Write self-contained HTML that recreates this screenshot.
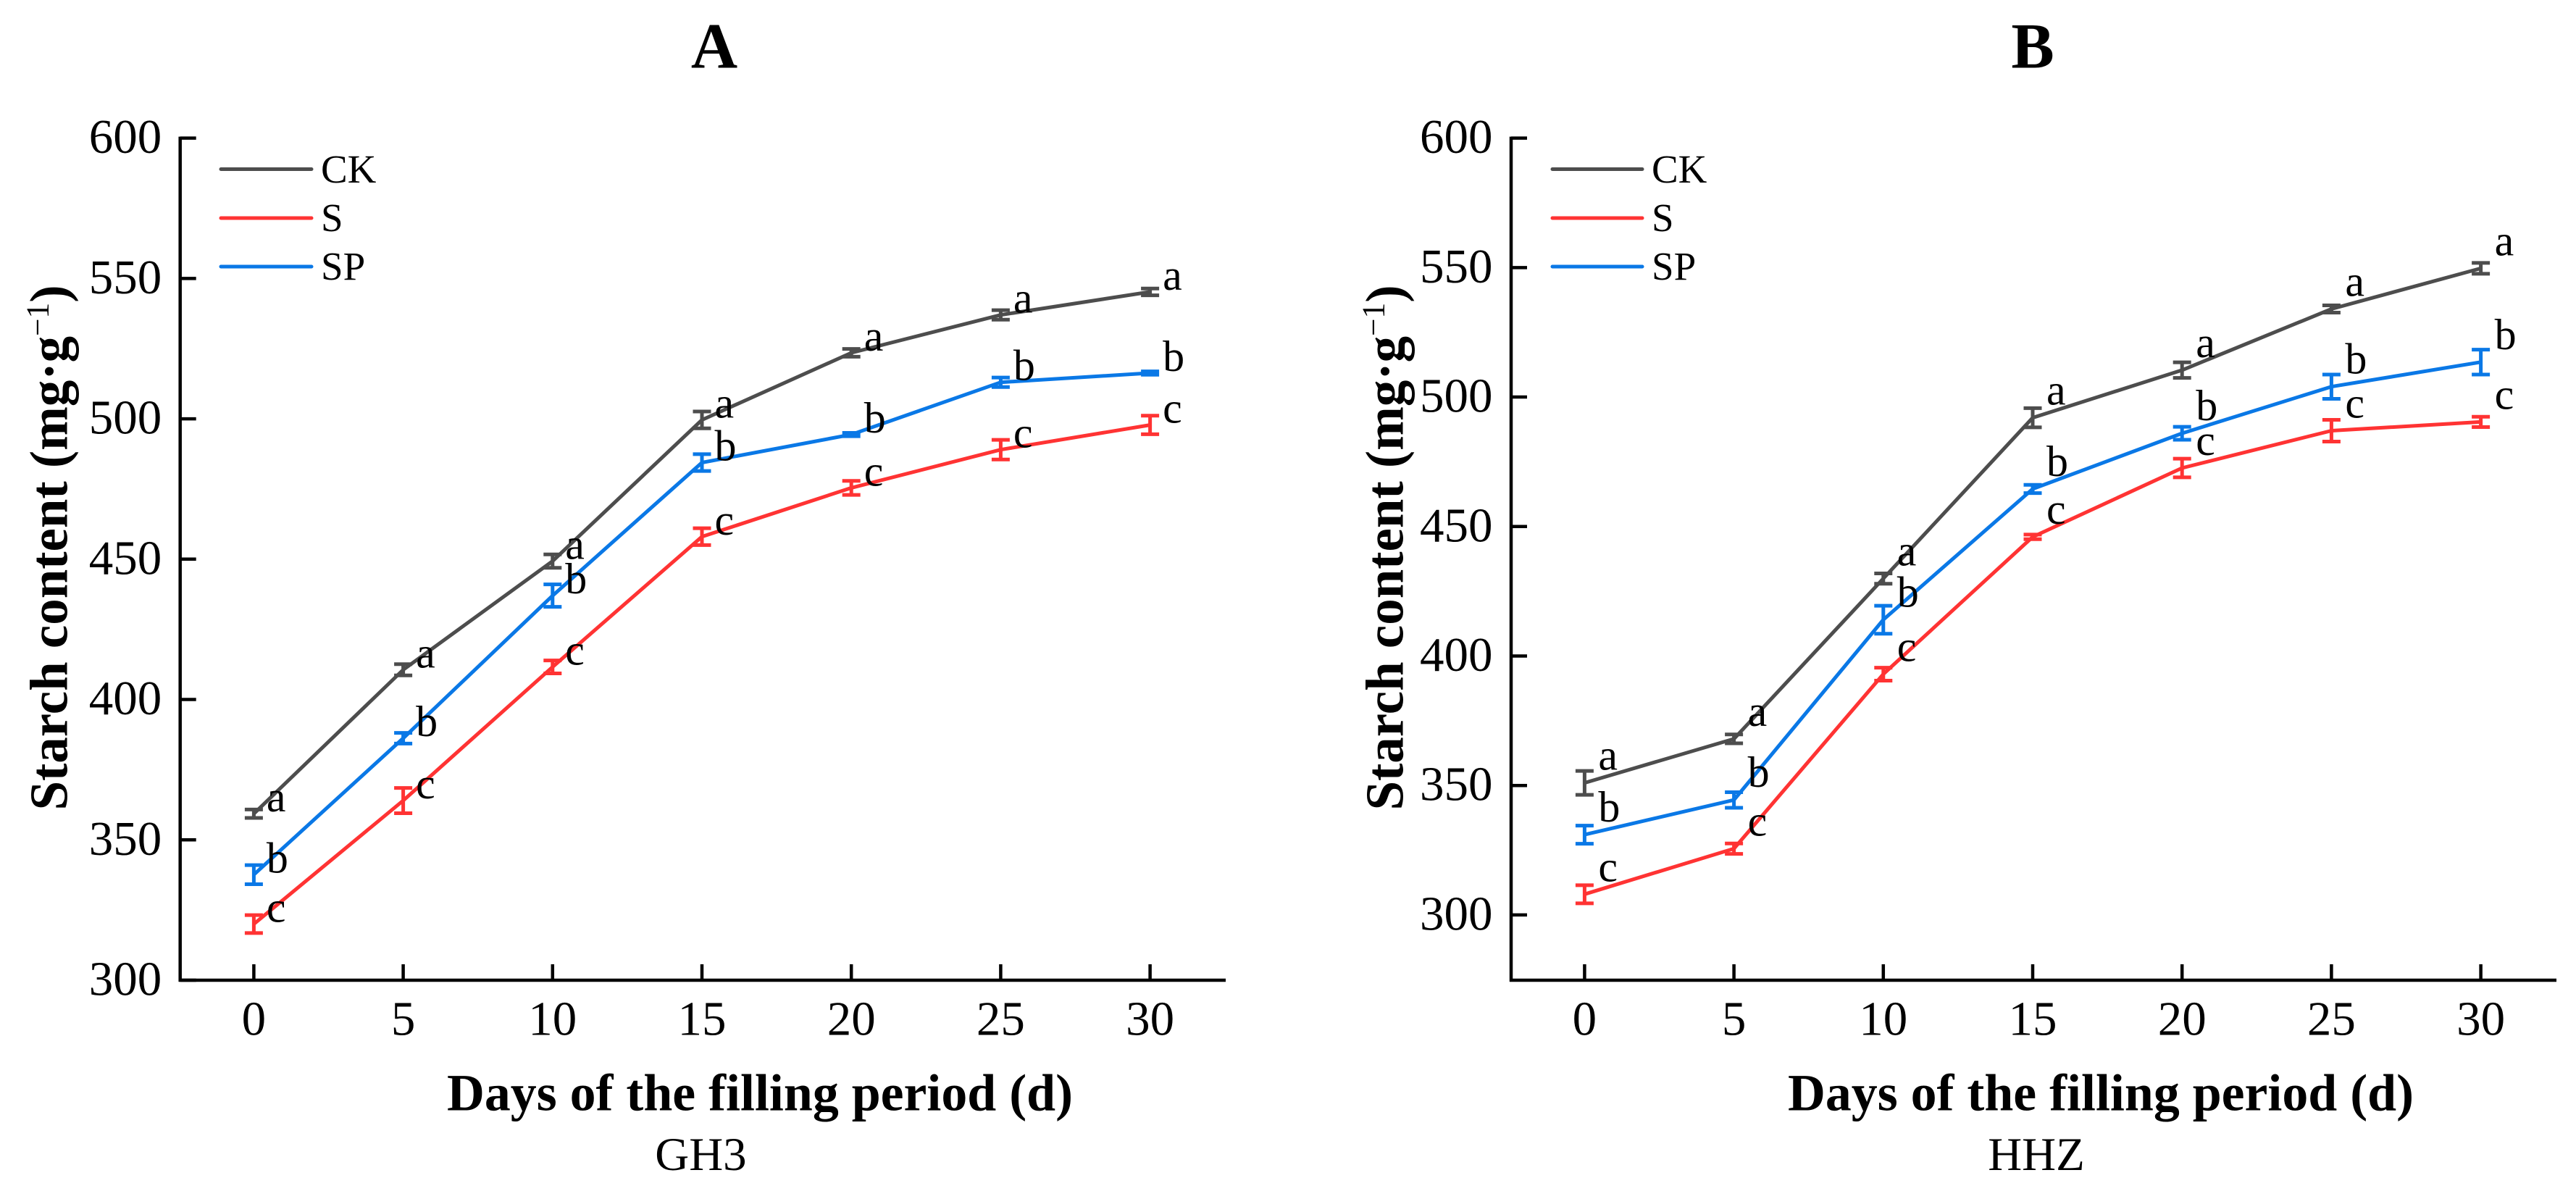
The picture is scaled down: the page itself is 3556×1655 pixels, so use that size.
<!DOCTYPE html>
<html lang="en">
<head>
<meta charset="utf-8">
<title>Starch content during the filling period</title>
<style>
html,body{margin:0;padding:0;background:#fff;}
svg{display:block;}
text{font-family:"Liberation Serif",serif;fill:#000;}
</style>
</head>
<body>
<svg id="figure" xmlns="http://www.w3.org/2000/svg" width="3556" height="1655" viewBox="0 0 3556 1655">
  <rect width="3556" height="1655" fill="#ffffff"/>
  <g id="panel-a">
    <text x="986" y="93.5" font-size="89" font-weight="bold" text-anchor="middle">A</text>
    <text transform="translate(92.5,756) rotate(-90)" font-size="74" font-weight="bold" text-anchor="middle" textLength="725" lengthAdjust="spacingAndGlyphs">Starch content (mg·g<tspan font-size="44" font-weight="normal" dy="-26">−1</tspan><tspan dy="26">)</tspan></text>
    <text x="1049" y="1532.5" font-size="72" font-weight="bold" text-anchor="middle" textLength="864" lengthAdjust="spacingAndGlyphs">Days of the filling period (d)</text>
    <text x="967.5" y="1615" font-size="65" text-anchor="middle">GH3</text>
    <g>
      <line x1="305" x2="430" y1="233.5" y2="233.5" stroke="#4d4d4d" stroke-width="5" stroke-linecap="round"/>
      <text x="443" y="252" font-size="55">CK</text>
      <line x1="305" x2="430" y1="301" y2="301" stroke="#ff3333" stroke-width="5" stroke-linecap="round"/>
      <text x="443" y="319" font-size="55">S</text>
      <line x1="305" x2="430" y1="368" y2="368" stroke="#0a78e6" stroke-width="5" stroke-linecap="round"/>
      <text x="443" y="386" font-size="55">SP</text>
    </g>
  </g>
  <g id="panel-b">
    <text x="2806" y="93.5" font-size="89" font-weight="bold" text-anchor="middle">B</text>
    <text transform="translate(1936.5,756) rotate(-90)" font-size="74" font-weight="bold" text-anchor="middle" textLength="725" lengthAdjust="spacingAndGlyphs">Starch content (mg·g<tspan font-size="44" font-weight="normal" dy="-26">−1</tspan><tspan dy="26">)</tspan></text>
    <text x="2900" y="1532.5" font-size="72" font-weight="bold" text-anchor="middle" textLength="864" lengthAdjust="spacingAndGlyphs">Days of the filling period (d)</text>
    <text x="2811" y="1615" font-size="65" text-anchor="middle">HHZ</text>
    <g>
      <line x1="2143" x2="2267" y1="233.5" y2="233.5" stroke="#4d4d4d" stroke-width="5" stroke-linecap="round"/>
      <text x="2280" y="252" font-size="55">CK</text>
      <line x1="2143" x2="2267" y1="301" y2="301" stroke="#ff3333" stroke-width="5" stroke-linecap="round"/>
      <text x="2280" y="319" font-size="55">S</text>
      <line x1="2143" x2="2267" y1="368" y2="368" stroke="#0a78e6" stroke-width="5" stroke-linecap="round"/>
      <text x="2280" y="386" font-size="55">SP</text>
    </g>
  </g>
</svg>
<script>
// Shared categories and tick labels
const days = [0, 5, 10, 15, 20, 25, 30];
const yTickLabels = [300, 350, 400, 450, 500, 550, 600];

// Panel A (GH3) values
const ckA = [359.3, 410.6, 449.3, 499.6, 523.5, 537, 545.2];
const ckErrA = [1.5, 2, 2.4, 3, 1.4, 1.7, 1.2];
const sA = [320, 364, 411.6, 458, 475.4, 489, 497.8];
const sErrA = [3.2, 4.5, 2.3, 3, 2.5, 3.5, 3.3];
const spA = [337.6, 386.2, 437, 484.4, 494.4, 513, 516.3];
const spErrA = [3.4, 1.9, 4, 3, 0.6, 1.7, 0.6];

// Panel B (HHZ) values
const ckB = [351, 368, 429.9, 492, 510.4, 534, 549.7];
const ckErrB = [4.6, 1.7, 2, 3.7, 3, 1.4, 2.1];
const sB = [308, 325.6, 393, 446, 472.6, 487, 490.4];
const sErrB = [3.5, 2, 2.5, 0.9, 3.6, 4.2, 2];
const spB = [331, 344.4, 414, 464.5, 486, 504, 513.5];
const spErrB = [3.5, 3, 5.4, 1.6, 2.5, 4.7, 4.8];

// Significance letters per series
const ckLetter = 'a';
const sLetter = 'c';
const spLetter = 'b';

const NS = 'http://www.w3.org/2000/svg';

function makeEl(parent, tag, attrs) {
  const el = document.createElementNS(NS, tag);
  for (const k in attrs) el.setAttribute(k, attrs[k]);
  parent.appendChild(el);
  return el;
}

function drawPanel(group, frame, series) {
  const xScale = d => frame.x0 + (d - 0) / 30 * (frame.x30 - frame.x0);
  const yScale = v => frame.bottom - (v - frame.yMin) / (600 - frame.yMin) * (frame.bottom - frame.top);

  // Axes
  const yAxis = makeEl(group, 'line', {x1: frame.axisX, x2: frame.axisX, y1: frame.top - 2, y2: frame.bottom + 2, stroke: '#000', 'stroke-width': 4.5});
  
  
  const xAxis = makeEl(group, 'line', {x1: frame.axisX - 2, x2: frame.axisEnd, y1: frame.bottom, y2: frame.bottom, stroke: '#000', 'stroke-width': 4.5});
  
  

  // Y ticks
  yTickLabels.forEach(v => {
    if (v < frame.yMin) return;
    const y = yScale(v);
    const tick = makeEl(group, 'line', {x1: frame.axisX, x2: frame.axisX + 22, y1: y, y2: y, stroke: '#000', 'stroke-width': 4.5});
    
    
    const label = makeEl(group, 'text', {x: frame.axisX - 25.5, y: y + 20.5, 'font-size': 67, 'text-anchor': 'end'});
    label.textContent = v;
    
    
  });

  // X ticks
  days.forEach(d => {
    const x = xScale(d);
    const tick = makeEl(group, 'line', {x1: x, x2: x, y1: frame.bottom - 22, y2: frame.bottom, stroke: '#000', 'stroke-width': 4.5});
    
    
    const label = makeEl(group, 'text', {x: x, y: 1428.5, 'font-size': 67, 'text-anchor': 'middle'});
    label.textContent = d;
    
    
  });

  // Series
  series.forEach(s => {
    const g = makeEl(group, 'g', {});
    
    
    const pts = s.values.map((v, i) => xScale(days[i]).toFixed(1) + ',' + yScale(v).toFixed(1)).join(' ');
    const line = makeEl(g, 'polyline', {points: pts, fill: 'none', stroke: s.color, 'stroke-width': 5, 'stroke-linejoin': 'round'});
    
    
    s.values.forEach((v, i) => {
      const x = xScale(days[i]);
      const hi = yScale(v + s.errors[i]);
      const lo = yScale(v - s.errors[i]);
      const bar = makeEl(g, 'path', {
        d: 'M' + (x - 12.5) + ' ' + hi + 'H' + (x + 12.5) + 'M' + x + ' ' + hi + 'V' + lo + 'M' + (x - 12.5) + ' ' + lo + 'H' + (x + 12.5),
        fill: 'none', stroke: s.color, 'stroke-width': 5
      });
      
      
      const letter = makeEl(g, 'text', {x: x + frame.letterDx, y: yScale(v) + frame.letterDy, 'font-size': 60, fill: '#111'});
      letter.textContent = s.letter;
      
      
    });
  });
}

drawPanel(document.getElementById('panel-a'),
  {x0: 350.4, x30: 1587.6, axisX: 248.7, axisEnd: 1692, top: 190.6, bottom: 1353, yMin: 300, letterDx: 17.5, letterDy: -3},
  [
    {name: 'ck', color: '#4d4d4d', values: ckA, errors: ckErrA, letter: ckLetter},
    {name: 's', color: '#ff3333', values: sA, errors: sErrA, letter: sLetter},
    {name: 'sp', color: '#0a78e6', values: spA, errors: spErrA, letter: spLetter}
  ]);

drawPanel(document.getElementById('panel-b'),
  {x0: 2187.4, x30: 3424.6, axisX: 2086, axisEnd: 3529, top: 190.6, bottom: 1353, yMin: 274.8, letterDx: 19, letterDy: -18},
  [
    {name: 'ck', color: '#4d4d4d', values: ckB, errors: ckErrB, letter: ckLetter},
    {name: 's', color: '#ff3333', values: sB, errors: sErrB, letter: sLetter},
    {name: 'sp', color: '#0a78e6', values: spB, errors: spErrB, letter: spLetter}
  ]);
</script>
</body>
</html>
